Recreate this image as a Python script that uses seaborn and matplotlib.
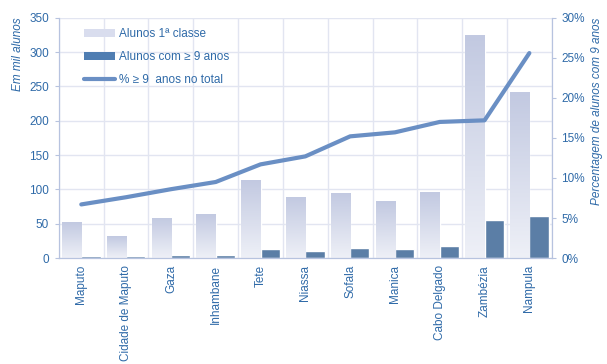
import numpy as np
import pandas as pd
import matplotlib.pyplot as plt
import matplotlib.colors as mcolors
from matplotlib.lines import Line2D
from matplotlib.patches import Patch
import seaborn as sns

# data
provincias = ['Maputo', 'Cidade de Maputo', 'Gaza', 'Inhambane', 'Tete', 'Niassa',
              'Sofala', 'Manica', 'Cabo Delgado', 'Zambézia', 'Nampula']
alunos_1a = [52, 32, 59, 64, 114, 89, 95, 83, 96, 325, 242]
alunos_9 = [3, 3, 5, 5, 13, 11, 14, 13, 17, 56, 62]
pct_9 = [6.7, 7.6, 8.6, 9.5, 11.7, 12.7, 15.2, 15.7, 17.0, 17.2, 25.6]

serie_a = 'Alunos 1ª classe'
serie_b = 'Alunos com ≥ 9 anos'
serie_c = '% ≥ 9  anos no total'

blue_txt = '#2f6aa8'
dark_bar = '#4f7db2'
line_col = '#6a8fc4'
grid_col = '#e2e5f1'
spine_col = '#b7c3df'

df = pd.DataFrame({
    'provincia': provincias * 2,
    'valor': alunos_1a + alunos_9,
    'serie': [serie_a] * len(provincias) + [serie_b] * len(provincias),
})

sns.set_style('white')
plt.rcParams['font.family'] = ['Liberation Sans Narrow', 'Liberation Sans', 'DejaVu Sans']

fig = plt.figure(figsize=(6.07, 3.64), dpi=100)
ax = fig.add_axes([0.097, 0.291, 0.812, 0.660])

sns.barplot(data=df, x='provincia', y='valor', hue='serie', order=provincias,
            palette=['#d3d8ea', dark_bar], width=0.86, gap=0, ax=ax,
            legend=False, zorder=2)

# gradient fill for the light bars
n = len(provincias)
grad_cmap = mcolors.LinearSegmentedColormap.from_list('g', ['#eef0f7', '#c2c9e1'])
grad = np.linspace(0, 1, 100).reshape(-1, 1)
for bar in ax.patches[:n]:
    x0, y0 = bar.get_x(), bar.get_y()
    w, h = bar.get_width(), bar.get_height()
    im = ax.imshow(grad, cmap=grad_cmap, origin='lower', aspect='auto',
                   extent=[x0, x0 + w, y0, y0 + h], zorder=2.1)
    im.set_clip_path(bar)

ax.set_xlim(-0.5, n - 0.5)
ax.set_ylim(0, 350)
ax.set_yticks(range(0, 351, 50))
ax.set_xticks(range(n))
ax.set_xticks(np.arange(-0.5, n, 1), minor=True)
ax.set_xticklabels(provincias, rotation=90, color=blue_txt, fontsize=8.5)
ax.tick_params(axis='x', which='major', length=0, pad=5)
ax.tick_params(axis='x', which='minor', length=3, color=spine_col)
ax.tick_params(axis='y', length=3, color=spine_col, labelcolor=blue_txt, labelsize=8.5, pad=4)
ax.set_xlabel('')
ax.set_ylabel('Em mil alunos', color=blue_txt, fontsize=8.5, style='italic', loc='top')
ax.grid(True, axis='y', color=grid_col, lw=1, zorder=0)
ax.grid(True, axis='x', which='minor', color=grid_col, lw=1, zorder=0)
ax.set_axisbelow(True)

ax2 = ax.twinx()
sns.lineplot(x=np.arange(n), y=pct_9, color=line_col, lw=3, ax=ax2, zorder=3)
ax2.set_ylim(0, 30)
ax2.set_yticks(range(0, 31, 5))
ax2.set_yticklabels([f'{v}%' for v in range(0, 31, 5)])
ax2.tick_params(axis='y', length=3, color=spine_col, labelcolor=blue_txt, labelsize=8.5, pad=4)
ax2.set_ylabel('Percentagem de alunos com 9 anos', color=blue_txt, fontsize=8.5,
               style='italic', loc='top')
ax2.grid(False)

for a in (ax, ax2):
    a.spines['top'].set_visible(False)
    for s in ('left', 'right', 'bottom'):
        a.spines[s].set_color(spine_col)

handles = [Patch(facecolor='#d9ddee', edgecolor='none'),
           Patch(facecolor=dark_bar, edgecolor='none'),
           Line2D([0], [0], color=line_col, lw=3)]
leg = ax2.legend(handles, [serie_a, serie_b, serie_c], loc='upper left',
                 bbox_to_anchor=(0.03, 1.0), frameon=False, fontsize=8.5,
                 labelcolor=blue_txt, handlelength=2.6, handletextpad=0.3,
                 labelspacing=0.9)

fig.savefig('out.png', dpi=100)
